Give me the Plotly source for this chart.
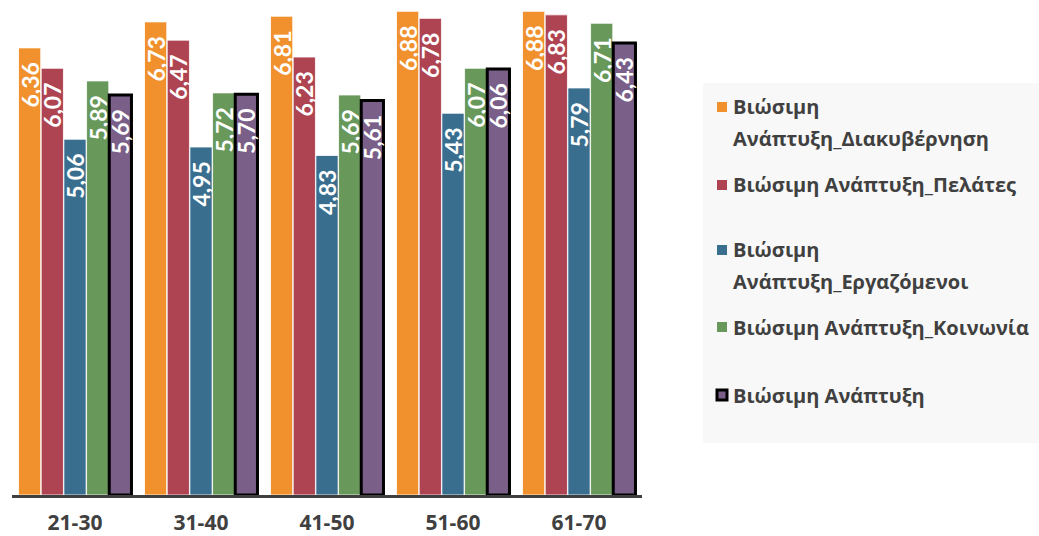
import plotly.graph_objects as go

categories = ["21-30", "31-40", "41-50", "51-60", "61-70"]
series_names = [
    "Βιώσιμη Ανάπτυξη_Διακυβέρνηση",
    "Βιώσιμη Ανάπτυξη_Πελάτες",
    "Βιώσιμη Ανάπτυξη_Εργαζόμενοι",
    "Βιώσιμη Ανάπτυξη_Κοινωνία",
    "Βιώσιμη Ανάπτυξη",
]
governance = [6.36, 6.73, 6.81, 6.88, 6.88]
customers = [6.07, 6.47, 6.23, 6.78, 6.83]
employees = [5.06, 4.95, 4.83, 5.43, 5.79]
society = [5.89, 5.72, 5.69, 6.07, 6.71]
overall = [5.69, 5.70, 5.61, 6.06, 6.43]

legend_lines = [
    ["Βιώσιμη", "Ανάπτυξη_Διακυβέρνηση"],
    ["Βιώσιμη Ανάπτυξη_Πελάτες"],
    ["Βιώσιμη", "Ανάπτυξη_Εργαζόμενοι"],
    ["Βιώσιμη Ανάπτυξη_Κοινωνία"],
    ["Βιώσιμη Ανάπτυξη"],
]

colors = ["#F0912E", "#AE4352", "#3A6E8E", "#68985A", "#7A5F88"]
all_values = [governance, customers, employees, society, overall]

W, H = 1039, 536
L, R_EDGE, T, B_EDGE = 12, 642, 0, 495
PW, PH = R_EDGE - L, B_EDGE - T

fig = go.Figure()
for i, (name, vals) in enumerate(zip(series_names, all_values)):
    is_total = i == 4
    fig.add_trace(go.Bar(
        x=categories, y=vals, name=name,
        marker=dict(color=colors[i],
                    line=dict(color="#000000" if is_total else "rgba(255,255,255,0.8)",
                              width=3 if is_total else 1)),
        text=[f"{v:.2f}".replace(".", ",") + "\u00a0\u00a0" for v in vals],
        textposition="inside", insidetextanchor="end", textangle=-90,
        constraintext="none", cliponaxis=False,
        insidetextfont=dict(color="white", size=23, family="Lato", weight="bold"),
        showlegend=False,
    ))

fig.update_layout(
    width=W, height=H,
    margin=dict(l=L, r=W - R_EDGE, t=T, b=H - B_EDGE, autoexpand=False),
    paper_bgcolor="white", plot_bgcolor="white",
    barmode="group", bargap=0.1, bargroupgap=0.02,
    xaxis=dict(showline=True, linecolor="#404040", linewidth=3,
               tickfont=dict(size=21, color="#404040", family="Open Sans", weight="bold"),
               ticks="", showgrid=False, zeroline=False, range=[-0.5, 4.5],
               ticklabelstandoff=7, automargin=False),
    yaxis=dict(range=[0, 495 / 70.3], visible=False, showgrid=False, automargin=False),
    font=dict(family="Open Sans"),
)


def px_x(x):
    return (x - L) / PW


def px_y(y):
    return (B_EDGE - y) / PH


fig.add_shape(type="rect", xref="paper", yref="paper",
              x0=px_x(703), x1=px_x(1039), y0=px_y(443), y1=px_y(83),
              fillcolor="#F8F8F8", line=dict(width=0), layer="below")

legend_y = [107, 185, 250, 327, 395]
LINE_GAP = 31
for i, (lines, yy) in enumerate(zip(legend_lines, legend_y)):
    lw = 3 if i == 4 else 0
    fig.add_shape(type="rect", xref="paper", yref="paper",
                  x0=px_x(717), x1=px_x(727), y0=px_y(yy + 5), y1=px_y(yy - 5),
                  fillcolor=colors[i],
                  line=dict(color="#000000", width=lw) if lw else dict(width=0))
    for j, line in enumerate(lines):
        fig.add_annotation(xref="paper", yref="paper", x=px_x(731),
                           y=px_y(yy + j * LINE_GAP),
                           xanchor="left", yanchor="middle", align="left",
                           text=line, showarrow=False,
                           font=dict(size=20, color="#404040", family="Open Sans",
                                     weight="bold"))

fig.write_html("out.html")
